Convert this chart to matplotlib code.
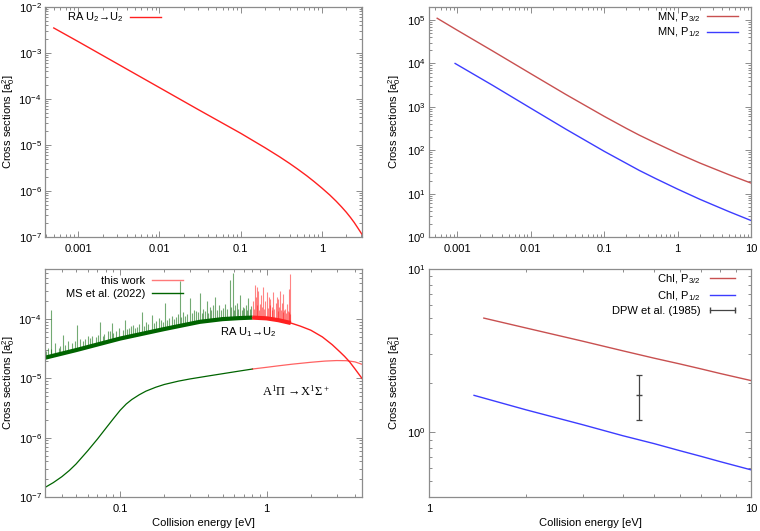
import numpy as np
import matplotlib
matplotlib.use('Agg')
import matplotlib.pyplot as plt
from matplotlib.ticker import LogLocator, NullFormatter, FixedLocator, FixedFormatter
from matplotlib.lines import Line2D

plt.rcParams['font.family'] = ['Liberation Sans', 'DejaVu Sans']
plt.rcParams['mathtext.default'] = 'regular'
plt.rcParams['font.size'] = 8

# ---- top left: RA U2->U2
ra22_E = [5e-4, 1e-3, 3e-3, 0.01, 0.03, 0.1, 0.2, 0.3, 0.4, 0.5, 0.65, 0.8, 1.0,
          1.25, 1.5, 1.75, 2.0, 2.25, 2.5, 2.8, 3.1]
ra22_sig = [3.5e-3, 1.77e-3, 5.9e-4, 1.77e-4, 5.9e-5, 1.8e-5, 8.7e-6, 5.57e-6, 3.98e-6,
            3.02e-6, 2.15e-6, 1.61e-6, 1.16e-6, 8.2e-7, 6.0e-7, 4.5e-7, 3.45e-7, 2.66e-7,
            2.07e-7, 1.53e-7, 1.16e-7]

# ---- top right: MN
mn32_E = [5.3e-4, 1e-3, 3e-3, 0.01, 0.03, 0.1, 0.2, 0.3, 0.5, 1, 2, 3, 5, 10]
mn32_sig = [1.1e5, 5.8e4, 1.95e4, 5.8e3, 1.93e3, 604, 319, 223, 147, 85, 50.9, 38.6, 27.3, 17.5]
mn12_E = [9.3e-4, 3e-3, 0.01, 0.03, 0.1, 0.3, 0.5, 1, 2, 3, 5, 10]
mn12_sig = [1e4, 3.15e3, 928, 306, 94.4, 34.3, 22.3, 12.7, 7.43, 5.55, 3.85, 2.4]

# ---- bottom left: RA U1->U2 (smooth part) and A-X
ms_E = [0.03, 0.05, 0.1, 0.2, 0.35, 0.5, 0.65, 0.8]
ms_sig = [2.2e-5, 3.0e-5, 4.7e-5, 6.8e-5, 9.0e-5, 1.0e-4, 1.04e-4, 1.06e-4]
tw_E = [0.8, 1.0, 1.2, 1.46, 1.7, 2.0, 2.4, 2.8, 3.16, 3.4, 3.68, 4.0, 4.47]
tw_sig = [1.06e-4, 1.03e-4, 9.6e-5, 8.6e-5, 7.6e-5, 6.5e-5, 5.0e-5, 3.7e-5, 2.8e-5,
          2.35e-5, 1.9e-5, 1.45e-5, 1.0e-5]

# resonance peaks (energy, peak value)
ms_peak_E = [0.0337, 0.041, 0.0507, 0.0599, 0.073, 0.0878, 0.108, 0.141, 0.164,
             0.203, 0.257, 0.30, 0.351, 0.39, 0.432, 0.445, 0.56, 0.585, 0.658, 0.75,
             0.032, 0.036, 0.038, 0.044, 0.047, 0.053, 0.056, 0.064, 0.068, 0.078,
             0.082, 0.093, 0.098, 0.115, 0.122, 0.13, 0.15, 0.155, 0.175, 0.185,
             0.215, 0.225, 0.24, 0.27, 0.285, 0.32, 0.34, 0.37, 0.41, 0.47, 0.5,
             0.52, 0.61, 0.63, 0.69, 0.72, 0.78,
             0.031, 0.034, 0.039, 0.042, 0.049, 0.058, 0.062, 0.071, 0.076, 0.085,
             0.09, 0.104, 0.112, 0.118, 0.127, 0.135, 0.145, 0.17, 0.19, 0.197,
             0.21, 0.232, 0.25, 0.262, 0.278, 0.31, 0.33, 0.36, 0.38, 0.4, 0.42,
             0.46, 0.49, 0.54, 0.575, 0.6, 0.64, 0.675, 0.7, 0.735, 0.765]
ms_peak_sig = [1.40e-4, 5.4e-5, 8.0e-5, 5.1e-5, 9.1e-5, 8.5e-5, 9.7e-5, 1.34e-4, 1.18e-4,
               1.86e-4, 4.4e-4, 2.26e-4, 2.74e-4, 2.0e-4, 1.74e-4, 2.4e-4, 4.6e-4, 6.0e-4, 2.57e-4, 2.26e-4,
               3.3e-5, 3.9e-5, 3.2e-5, 4.2e-5, 3.9e-5, 4.6e-5, 4.2e-5, 5.2e-5, 4.9e-5, 5.6e-5,
               6.4e-5, 6.2e-5, 7.0e-5, 7.1e-5, 8.0e-5, 7.5e-5, 9.0e-5, 8.2e-5, 9.3e-5, 1.05e-4,
               1.05e-4, 1.15e-4, 1.1e-4, 1.3e-4, 1.2e-4, 1.45e-4, 1.3e-4, 1.5e-4, 1.6e-4, 1.7e-4, 1.55e-4,
               1.8e-4, 1.7e-4, 1.9e-4, 1.6e-4, 1.75e-4, 1.65e-4,
               2.9e-5, 3.1e-5, 3.5e-5, 3.6e-5, 4.3e-5, 4.6e-5, 4.8e-5, 5.5e-5, 5.2e-5, 6.2e-5,
               5.9e-5, 6.6e-5, 6.8e-5, 7.6e-5, 7.0e-5, 8.4e-5, 7.8e-5, 8.6e-5, 9.8e-5, 9.0e-5,
               9.6e-5, 1.02e-4, 1.2e-4, 1.08e-4, 1.15e-4, 1.25e-4, 1.38e-4, 1.25e-4, 1.35e-4, 1.28e-4, 1.4e-4,
               1.45e-4, 1.4e-4, 1.5e-4, 1.62e-4, 1.45e-4, 1.5e-4, 1.45e-4, 1.55e-4, 1.42e-4, 1.5e-4]
tw_peak_E = [0.83, 0.855, 0.877, 0.95, 1.0, 1.03, 1.11, 1.2, 1.24, 1.30, 1.42, 1.45,
             0.81, 0.85, 0.9, 0.92, 0.98, 1.06, 1.08, 1.15, 1.17, 1.27, 1.34, 1.37, 1.41,
             0.82, 0.865, 0.89, 0.935, 0.965, 1.015, 1.045, 1.095, 1.13, 1.185, 1.22,
             1.25, 1.285, 1.32, 1.36, 1.39, 1.435]
tw_peak_sig = [3.8e-4, 3.5e-4, 3.0e-4, 3.5e-4, 2.9e-4, 2.4e-4, 2.9e-4, 2.2e-4, 3.0e-4, 2.7e-4, 3.2e-4, 5.7e-4,
               2.0e-4, 2.4e-4, 1.8e-4, 2.6e-4, 2.0e-4, 2.2e-4, 1.6e-4, 1.9e-4, 2.4e-4, 1.9e-4, 1.5e-4, 1.8e-4, 1.3e-4,
               1.5e-4, 1.7e-4, 1.45e-4, 1.6e-4, 1.5e-4, 1.55e-4, 1.7e-4, 1.4e-4, 1.5e-4, 1.35e-4, 1.6e-4,
               1.4e-4, 1.3e-4, 1.45e-4, 1.25e-4, 1.35e-4, 1.2e-4]

ax_ms_E = [0.03, 0.035, 0.04, 0.045, 0.05, 0.06, 0.07, 0.08, 0.09, 0.1, 0.11, 0.12, 0.135,
           0.15, 0.175, 0.2, 0.25, 0.3, 0.4, 0.5, 0.65, 0.8]
ax_ms_sig = [1.4e-7, 1.75e-7, 2.2e-7, 2.8e-7, 3.6e-7, 6e-7, 9.5e-7, 1.45e-6, 2.1e-6, 2.9e-6,
             3.7e-6, 4.4e-6, 5.3e-6, 6.1e-6, 7.1e-6, 7.9e-6, 9.0e-6, 9.8e-6, 1.1e-5, 1.2e-5,
             1.33e-5, 1.44e-5]
ax_tw_E = [0.8, 1.0, 1.2, 1.5, 2.0, 2.5, 3.0, 3.5, 4.0, 4.47]
ax_tw_sig = [1.44e-5, 1.54e-5, 1.63e-5, 1.74e-5, 1.87e-5, 1.96e-5, 2.0e-5, 1.99e-5, 1.9e-5, 1.73e-5]

# ---- bottom right: ChI
chi32_E = [1.48, 2, 3, 4, 5, 6, 7, 8, 10]
chi32_sig = [5.0, 4.35, 3.61, 3.15, 2.84, 2.62, 2.44, 2.29, 2.07]
chi12_E = [1.38, 2, 3, 4, 5, 6, 7, 8, 10]
chi12_sig = [1.68, 1.37, 1.11, 0.95, 0.85, 0.77, 0.71, 0.66, 0.587]
dpw_E = [4.49]
dpw_sig = [1.68]
dpw_err_lo = [0.50]
dpw_err_hi = [0.56]

RED = '#ff2020'
BROWN = '#c85050'
BLUE = '#3c3cff'
GREEN = '#006400'
FRAME = '#8c8c8c'
ylab = 'Cross sections [a$_0^2$]'


def style_ax(ax, xticks, xlabels, xlim, ylim, ylab_x):
    ax.set_xscale('log')
    ax.set_yscale('log')
    ax.set_xlim(*xlim)
    ax.set_ylim(*ylim)
    for s in ax.spines.values():
        s.set_color(FRAME)
        s.set_linewidth(0.9)
    ax.tick_params(which='both', direction='in', top=True, right=True,
                   color=FRAME, labelsize=8, width=0.7)
    ax.tick_params(which='major', length=4)
    ax.tick_params(axis='x', which='major', pad=5)
    ax.tick_params(axis='y', which='major', pad=2.5)
    ax.tick_params(which='minor', length=2)
    ax.xaxis.set_major_locator(FixedLocator(xticks))
    ax.xaxis.set_major_formatter(FixedFormatter(xlabels))
    ax.xaxis.set_minor_locator(LogLocator(base=10, subs=np.arange(2, 10), numticks=30))
    ax.xaxis.set_minor_formatter(NullFormatter())
    ax.yaxis.set_major_locator(LogLocator(base=10, numticks=30))
    ax.yaxis.set_minor_locator(LogLocator(base=10, subs=np.arange(2, 10), numticks=30))
    ax.yaxis.set_minor_formatter(NullFormatter())
    ax.set_ylabel(ylab, fontsize=8)
    ax.yaxis.set_label_coords(ylab_x, 0.5)


fig = plt.figure(figsize=(7.6, 5.31), dpi=100)
W, H = 760.0, 531.0
def add_ax(x0, y0, x1, y1):
    return fig.add_axes([x0 / W, 1 - y1 / H, (x1 - x0) / W, (y1 - y0) / H])

ax_tl = add_ax(45, 7, 362, 237)
ax_tr = add_ax(429, 7, 751, 237)
ax_bl = add_ax(45, 269, 362, 497)
ax_br = add_ax(429, 269, 751, 497)

# top left
ax_tl.plot(ra22_E, ra22_sig, color=RED, lw=1, label=r'RA U$_2$→U$_2$')
style_ax(ax_tl, [0.001, 0.01, 0.1, 1], ['0.001', '0.01', '0.1', '1'], (3.9e-4, 3.12), (1e-7, 1e-2), -0.088)
ax_tl.legend(loc='upper left', bbox_to_anchor=(0.07, 0.985), markerfirst=False, frameon=False,
             handlelength=2.8, handletextpad=0.6, borderpad=0, borderaxespad=0, fontsize=8)

# top right
ax_tr.plot(mn32_E, mn32_sig, color=BROWN, lw=1, label='MN, P$_{3/2}$')
ax_tr.plot(mn12_E, mn12_sig, color=BLUE, lw=1, label='MN, P$_{1/2}$')
style_ax(ax_tr, [0.001, 0.01, 0.1, 1, 10], ['0.001', '0.01', '0.1', '1', '10'], (4.1e-4, 10), (1, 2e5), -0.08)
ax_tr.legend(loc='upper right', bbox_to_anchor=(0.96, 0.985), markerfirst=False, frameon=False,
             handlelength=2.8, handletextpad=0.6, borderpad=0, borderaxespad=0,
             labelspacing=0.15, fontsize=8)

# bottom left
def foot(E, bE, bs):
    return np.exp(np.interp(np.log(E), np.log(bE), np.log(bs)))

ax_bl.vlines(ms_peak_E, foot(ms_peak_E, ms_E, ms_sig), ms_peak_sig, color=GREEN, lw=0.8, alpha=0.55)
ax_bl.vlines(tw_peak_E, foot(tw_peak_E, tw_E, tw_sig), tw_peak_sig, color=RED, lw=0.8, alpha=0.55)
ax_bl.plot(ms_E, ms_sig, color=GREEN, lw=3.0, solid_capstyle='butt')
tw_E_arr = np.array(tw_E)
tw_sig_arr = np.array(tw_sig)
res = tw_E_arr <= 1.46
ax_bl.plot(tw_E_arr[res], tw_sig_arr[res], color=RED, lw=3.0, solid_capstyle='butt')
ax_bl.plot(tw_E, tw_sig, color=RED, lw=1)
ax_bl.plot(ax_ms_E, ax_ms_sig, color=GREEN, lw=0.9)
ax_bl.plot(ax_tw_E, ax_tw_sig, color=RED, lw=0.9, alpha=0.7)
style_ax(ax_bl, [0.1, 1], ['0.1', '1'], (0.0307, 4.47), (1e-7, 7e-4), -0.088)
ax_bl.set_xlabel('Collision energy [eV]', fontsize=8, labelpad=3)
ax_bl.text(0.64, 0.724, r'RA U$_1$→U$_2$', transform=ax_bl.transAxes, ha='center', va='center', fontsize=8)
ax_bl.text(0.792, 0.465, 'A$^1$Π →X$^1$Σ$^+$', transform=ax_bl.transAxes, ha='center', va='center',
           fontsize=9, family=['Liberation Serif', 'DejaVu Serif'])
bl_handles = [Line2D([], [], color=RED, lw=1, alpha=0.6), Line2D([], [], color=GREEN, lw=1)]
ax_bl.legend(bl_handles, ['this work', 'MS et al. (2022)'], loc='upper right', bbox_to_anchor=(0.435, 0.97),
             markerfirst=False, frameon=False, handlelength=2.8, handletextpad=0.6, borderpad=0,
             borderaxespad=0, labelspacing=0.3, fontsize=8)

# bottom right
ax_br.plot(chi32_E, chi32_sig, color=BROWN, lw=1, label='ChI, P$_{3/2}$')
ax_br.plot(chi12_E, chi12_sig, color=BLUE, lw=1, label='ChI, P$_{1/2}$')
ax_br.errorbar(dpw_E, dpw_sig, yerr=[dpw_err_lo, dpw_err_hi], fmt='none', ecolor='#444444',
               elinewidth=0.9, capsize=2.5, capthick=0.9)
ax_br.plot(dpw_E, dpw_sig, ls='none', marker='_', ms=4, color='#444444')
style_ax(ax_br, [1, 10], ['1', '10'], (1, 10), (0.4, 10), -0.08)
ax_br.set_xlabel('Collision energy [eV]', fontsize=8, labelpad=3)
br_handles, br_labels = ax_br.get_legend_handles_labels()
br_handles = br_handles[:2] + [Line2D([], [], color='#444444', lw=0.9, marker='|', ms=5)]
br_labels = br_labels[:2] + ['DPW et al. (1985)']
ax_br.legend(br_handles, br_labels, loc='upper right', bbox_to_anchor=(0.96, 0.985), markerfirst=False,
             frameon=False, handlelength=2.8, handletextpad=0.6, borderpad=0, borderaxespad=0,
             labelspacing=0.3, numpoints=2, fontsize=8)

fig.savefig('out.png', dpi=100)
